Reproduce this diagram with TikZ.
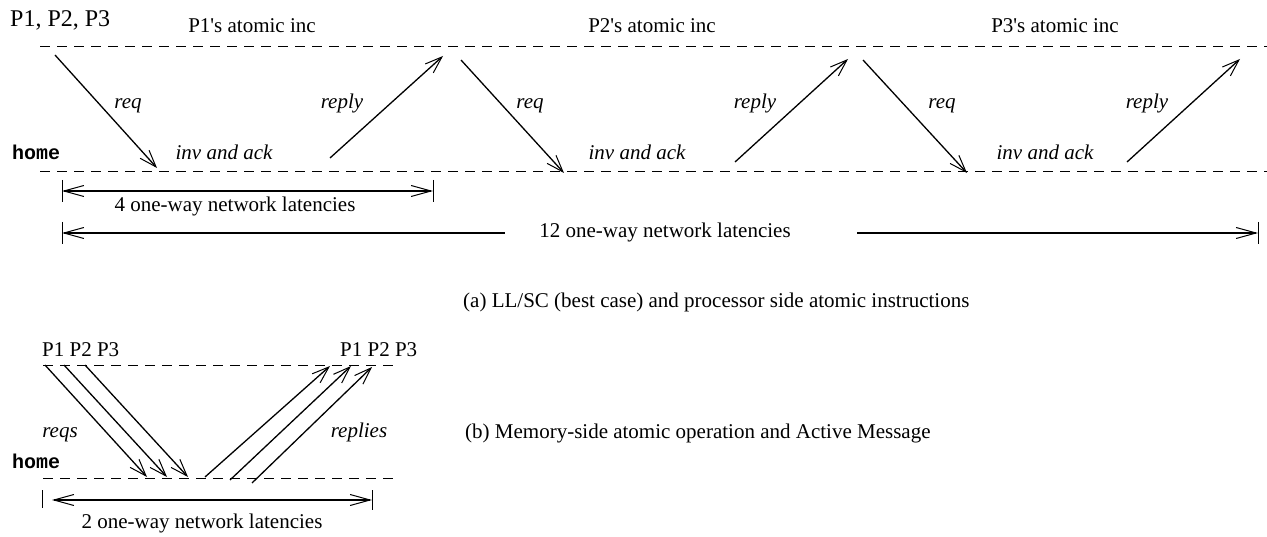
\documentclass[tikz,border=0pt]{standalone}
\usepackage{fontspec}
\setmainfont{Liberation Serif}[Ligatures=TeXOff]
\setmonofont{Liberation Mono}
\usetikzlibrary{arrows.meta}

\tikzset{
  dimtip/.tip={Straight Barb[length=20pt,width=11pt,line width=1pt]},
  msgtip/.tip={Straight Barb[length=17pt,width=12pt,line width=1pt]}
}

\begin{document}
\begin{tikzpicture}[x=1pt,y=-1pt,
  txt/.style={font=\fontsize{21}{25}\selectfont, inner sep=0pt, anchor=base},
  bigtxt/.style={font=\fontsize{24}{28}\selectfont, inner sep=0pt, anchor=base west},
  msg/.style={font=\fontsize{21}{25}\selectfont\itshape, inner sep=0pt, anchor=base},
  hometxt/.style={font=\fontsize{20}{24}\selectfont\ttfamily\bfseries, inner sep=0pt, anchor=base west},
  level/.style={line width=0.8pt, dash pattern=on 10pt off 7pt},
  msgarrow/.style={line width=1.3pt, -msgtip},
  dimline/.style={line width=1.3pt},
  tick/.style={line width=1pt}]

\useasboundingbox (0,0) rectangle (1267,537);

% ---------- (a) processor-side atomics ----------
\coordinate (aTopL) at (40,46);   \coordinate (aTopR) at (1267,46);
\coordinate (aBotL) at (40,171);  \coordinate (aBotR) at (1267,171);
\draw[level] (aTopL) -- (aTopR);
\draw[level] (aBotL) -- (aBotR);

\node[bigtxt] (procs) at (10,27) {P1, P2, P3};
\node[hometxt] (homeA) at (12,160) {home};
\node[txt] (inc1) at (252,33) {P1's atomic inc};
\node[txt] (inc2) at (652,33) {P2's atomic inc};
\node[txt] (inc3) at (1055,33) {P3's atomic inc};

% request / reply messages for each processor
\coordinate (rq1s) at (55,55);    \coordinate (rq1e) at (157,168);
\coordinate (rp1s) at (330,158);  \coordinate (rp1e) at (443,56);
\coordinate (rq2s) at (461,60);   \coordinate (rq2e) at (564,173);
\coordinate (rp2s) at (735,162);  \coordinate (rp2e) at (848,59);
\coordinate (rq3s) at (863,60);   \coordinate (rq3e) at (967,173);
\coordinate (rp3s) at (1127,162); \coordinate (rp3e) at (1240,59);
\draw[msgarrow] (rq1s) -- (rq1e);
\draw[msgarrow] (rp1s) -- (rp1e);
\draw[msgarrow] (rq2s) -- (rq2e);
\draw[msgarrow] (rp2s) -- (rp2e);
\draw[msgarrow] (rq3s) -- (rq3e);
\draw[msgarrow] (rp3s) -- (rp3e);

\node[msg] (req1) at (128,109) {req};
\node[msg] (rep1) at (342,109) {reply};
\node[msg] (inv1) at (224,160) {inv and ack};
\node[msg] (req2) at (530,109) {req};
\node[msg] (rep2) at (755,109) {reply};
\node[msg] (inv2) at (637,160) {inv and ack};
\node[msg] (req3) at (942,109) {req};
\node[msg] (rep3) at (1147,109) {reply};
\node[msg] (inv3) at (1045,160) {inv and ack};

% latency dimensions
\coordinate (d4L) at (62,191);  \coordinate (d4R) at (433,191);
\draw[tick] (62,180) -- (62,202);
\draw[tick] (433,180) -- (433,202);
\draw[dimline, dimtip-dimtip] (d4L) -- (d4R);
\node[txt] (lat4) at (235,212) {4 one-way network latencies};

\coordinate (d12L) at (62,233);  \coordinate (d12R) at (1258,233);
\node[txt, anchor=center] (lat12) at (665,233) {\strut 12 one-way network latencies};
\draw[tick] (62,222) -- (62,244);
\draw[tick] (1258,222) -- (1258,244);
\draw[dimline, dimtip-] (d12L) -- (505,233);
\draw[dimline, -dimtip] (857,233) -- (d12R);

\node[txt, anchor=base west] (capA) at (463,308) {(a) LL/SC (best case) and processor side atomic instructions};

% ---------- (b) memory-side atomics ----------
\coordinate (bTopL) at (43,365);  \coordinate (bTopR) at (393,365);
\coordinate (bBotL) at (43,478);  \coordinate (bBotR) at (393,478);
\draw[level] (bTopL) -- (bTopR);
\draw[level] (bBotL) -- (bBotR);

\node[txt, anchor=base west] (procsL) at (42,357) {P1 P2 P3};
\node[txt, anchor=base west] (procsR) at (340,357) {P1 P2 P3};
\node[hometxt] (homeB) at (12,468) {home};

\coordinate (q1s) at (45,365);   \coordinate (q1e) at (147,477);
\coordinate (q2s) at (64,365);   \coordinate (q2e) at (167,477);
\coordinate (q3s) at (85,365);   \coordinate (q3e) at (188,477);
\coordinate (p1s) at (205,477);  \coordinate (p1e) at (330,366);
\coordinate (p2s) at (230,480);  \coordinate (p2e) at (351,366);
\coordinate (p3s) at (252,483);  \coordinate (p3e) at (372,367);
\draw[msgarrow] (q1s) -- (q1e);
\draw[msgarrow] (q2s) -- (q2e);
\draw[msgarrow] (q3s) -- (q3e);
\draw[msgarrow] (p1s) -- (p1e);
\draw[msgarrow] (p2s) -- (p2e);
\draw[msgarrow] (p3s) -- (p3e);

\node[msg] (reqs) at (60,437) {reqs};
\node[msg] (reps) at (359,437) {replies};

\coordinate (d2L) at (52,500);  \coordinate (d2R) at (372,500);
\draw[tick] (42,490) -- (42,508);
\draw[tick] (372,490) -- (372,510);
\draw[dimline, dimtip-dimtip] (d2L) -- (d2R);
\node[txt] (lat2) at (202,528) {2 one-way network latencies};

\node[txt, anchor=base west] (capB) at (465,438) {(b) Memory-side atomic operation and Active Message};

\end{tikzpicture}
\end{document}
